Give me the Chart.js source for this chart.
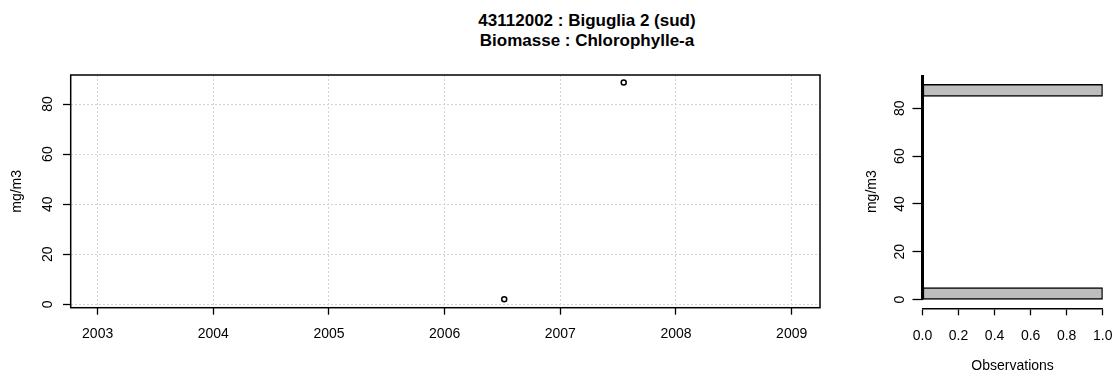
<!DOCTYPE html>
<html lang="fr">
<head>
    <meta charset="UTF-8">
    <title>Biguglia 2 (sud) - Chlorophylle-a</title>
    <style>
        body {
            margin: 0;
            background: #ffffff;
        }
        .page {
            position: relative;
            width: 1117px;
            height: 376px;
            font-family: "Liberation Sans", Arial, sans-serif;
        }
        .page canvas {
            position: absolute;
            left: 0;
            top: 0;
        }
        .title {
            position: absolute;
            left: 387px;
            width: 400px;
            top: 11px;
            text-align: center;
            font-weight: bold;
            font-size: 17px;
            line-height: 20px;
            color: #000;
        }
    </style>
</head>
<body>
<div class="page">
    <div class="title">43112002 : Biguglia 2 (sud)<br>Biomasse : Chlorophylle-a</div>
    <canvas id="seriesChart" width="1117" height="376"></canvas>
    <canvas id="histChart" width="1117" height="376"></canvas>
</div>
<script src="https://cdn.jsdelivr.net/npm/chart.js"></script>

<script>
    // measurements (date, mg/m3)
    const sampleDates = ['2006-07-08', '2007-07-20'];
    const chloroValues = [2.0, 88.6];

    // histogram: lower edge of each 5 mg/m3 class and number of observations
    const binStarts = [0, 5, 10, 15, 20, 25, 30, 35, 40, 45, 50, 55, 60, 65, 70, 75, 80, 85];
    const binCounts = [1, 0, 0, 0, 0, 0, 0, 0, 0, 0, 0, 0, 0, 0, 0, 0, 0, 1];
    const binWidth = 5;

    const FONT = "'Liberation Sans', Arial, sans-serif";
    Chart.defaults.font.family = FONT;
    Chart.defaults.font.size = 14;
    Chart.defaults.color = '#000';

    function decimalYear(s) {
        const d = new Date(s + 'T00:00:00Z');
        const y = d.getUTCFullYear();
        const start = Date.UTC(y, 0, 1);
        const end = Date.UTC(y + 1, 0, 1);
        return y + (d.getTime() - start) / (end - start);
    }

    const points = sampleDates.map((d, i) => ({x: decimalYear(d), y: chloroValues[i]}));
    const bars = binStarts.map((b, i) => ({x: binCounts[i], y: b + binWidth / 2}));

    // keep the plot area where it is, whatever the tick labels ask for
    function noLabelPadding(s) {
        s.paddingLeft = 0;
        s.paddingRight = 0;
        s.paddingTop = 0;
        s.paddingBottom = 0;
    }

    // box around the plotting region (R style)
    const boxPlugin = {
        id: 'box',
        afterDraw(chart) {
            const a = chart.chartArea;
            const ctx = chart.ctx;
            ctx.save();
            ctx.strokeStyle = '#000';
            ctx.lineWidth = 1.5;
            ctx.strokeRect(a.left, a.top, a.right - a.left, a.bottom - a.top);
            ctx.restore();
        }
    };

    // the thick line of empty classes at zero observations
    const zeroLinePlugin = {
        id: 'zeroLine',
        afterDatasetsDraw(chart) {
            const x = chart.scales.x.getPixelForValue(0);
            const y0 = chart.scales.y.getPixelForValue(0);
            const ctx = chart.ctx;
            ctx.save();
            ctx.strokeStyle = '#000';
            ctx.lineWidth = 3;
            ctx.beginPath();
            ctx.moveTo(x, chart.chartArea.top);
            ctx.lineTo(x, y0);
            ctx.stroke();
            ctx.restore();
        }
    };

    const seriesChart = new Chart(document.getElementById('seriesChart'), {
        type: 'scatter',
        data: {
            datasets: [{
                data: points,
                pointStyle: 'circle',
                pointRadius: 2.5,
                pointBorderWidth: 1.5,
                borderColor: '#000',
                backgroundColor: 'rgba(0,0,0,0)'
            }]
        },
        options: {
            responsive: false,
            animation: false,
            layout: {padding: {left: 0, right: 297, top: 75, bottom: 0}},
            plugins: {legend: {display: false}, tooltip: {enabled: false}},
            scales: {
                x: {
                    type: 'linear',
                    min: 2002.767,
                    max: 2009.245,
                    afterFit: s => { s.height = 68.3; noLabelPadding(s); },
                    ticks: {
                        stepSize: 1,
                        includeBounds: false,
                        padding: 11,
                        maxRotation: 0,
                        callback: v => String(v)
                    },
                    grid: {
                        color: '#d3d3d3',
                        lineWidth: 1,
                        tickColor: '#000',
                        tickLength: 7,
                        tickWidth: 1.3,
                        tickBorderDash: []
                    },
                    border: {display: false, dash: [2, 2]}
                },
                y: {
                    min: -1.36,
                    max: 91.6,
                    afterFit: s => { s.width = 70.7; noLabelPadding(s); },
                    title: {display: true, text: 'mg/m3', padding: {top: 8.6, bottom: 0}},
                    ticks: {
                        stepSize: 20,
                        includeBounds: false,
                        minRotation: 90,
                        maxRotation: 90,
                        crossAlign: 'center',
                        padding: 7
                    },
                    grid: {
                        color: '#d3d3d3',
                        lineWidth: 1,
                        tickColor: '#000',
                        tickLength: 7.7,
                        tickWidth: 1.3,
                        tickBorderDash: []
                    },
                    border: {display: false, dash: [2, 2]}
                }
            }
        },
        plugins: [boxPlugin]
    });

    const histChart = new Chart(document.getElementById('histChart'), {
        type: 'bar',
        data: {
            datasets: [{
                data: bars,
                backgroundColor: '#bebebe',
                borderColor: '#000',
                borderWidth: 1.5,
                borderSkipped: false,
                categoryPercentage: 1,
                barPercentage: 1
            }]
        },
        options: {
            indexAxis: 'y',
            responsive: false,
            animation: false,
            layout: {padding: {left: 850, right: 14.3, top: 75, bottom: 0}},
            plugins: {legend: {display: false}, tooltip: {enabled: false}},
            scales: {
                x: {
                    type: 'linear',
                    min: 0,
                    max: 1,
                    afterFit: s => { s.height = 67.7; noLabelPadding(s); },
                    title: {display: true, text: 'Observations', padding: {top: 0, bottom: 1}},
                    ticks: {
                        stepSize: 0.2,
                        padding: 12,
                        maxRotation: 0,
                        callback: v => v.toFixed(1)
                    },
                    grid: {
                        drawOnChartArea: false,
                        tickColor: '#000',
                        tickLength: 7,
                        tickWidth: 1.3
                    },
                    border: {display: true, color: '#000', width: 1.5}
                },
                y: {
                    type: 'linear',
                    offset: false,
                    min: -3.68,
                    max: 93.93,
                    afterFit: s => { s.width = 72.5; noLabelPadding(s); },
                    title: {display: true, text: 'mg/m3', padding: {top: 13.3, bottom: 0}},
                    ticks: {
                        stepSize: 20,
                        includeBounds: false,
                        minRotation: 90,
                        maxRotation: 90,
                        crossAlign: 'center',
                        padding: 4.7
                    },
                    grid: {
                        offset: false,
                        drawOnChartArea: false,
                        tickColor: '#000',
                        tickLength: 10,
                        tickWidth: 1.3
                    },
                    border: {display: false}
                }
            }
        },
        plugins: [zeroLinePlugin]
    });
</script>
</body>
</html>
